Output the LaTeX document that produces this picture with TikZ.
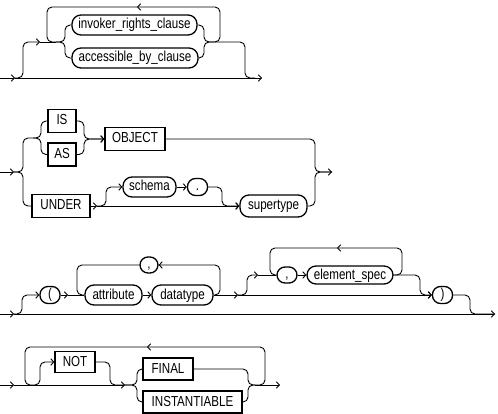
\documentclass[tikz,border=0pt]{standalone}
\usepackage{fontspec}
\setmainfont{Liberation Sans}[FakeStretch=0.8]
\usepackage{tikz}
\usetikzlibrary{calc,arrows.meta}
\newcommand\rrfont{\fontsize{14.5}{15}\selectfont}
\tikzset{
	rail/.style={line width=0.9pt, rounded corners=5pt},
	arr/.style={-{Straight Barb[length=3pt,width=6.5pt]}},
	kw/.style={draw, rectangle, line width=1.3pt, minimum height=22pt, inner xsep=0pt, inner ysep=2pt, text height=10.5pt, text depth=2.5pt, font=\rrfont},
	nt/.style={draw, rectangle, rounded corners=9pt, line width=1.3pt, minimum height=20pt, inner xsep=0pt, inner ysep=2pt, text height=10.5pt, text depth=2.5pt, font=\rrfont},
	pnc/.style={draw, rectangle, rounded corners=8pt, line width=1.3pt, minimum width=20pt, minimum height=17pt, inner sep=0pt, text height=9.5pt, text depth=3pt, font=\rrfont},
}
\begin{document}
\begin{tikzpicture}[x=1pt,y=-1pt]
	\useasboundingbox (0,0) rectangle (498,414);
	% invoker / accessible clause
	\coordinate (in1) at (0,78);
	\coordinate (a1) at (15,78);
	\coordinate (b1) at (40,42);
	\coordinate (c1) at (56,42);
	\coordinate (e1) at (137,7);
	\coordinate (f1) at (255,78);
	\coordinate (out1) at (262,78);
	\node[nt, minimum width=125pt] (irc) at (134.5,25) {invoker\_rights\_clause};
	\node[nt, minimum width=126pt] (abc) at (135,58) {accessible\_by\_clause};
	\draw[rail,arr] (in1) -- (a1);
	\draw[rail,arr] (a1) -- (out1);
	\draw[rail,arr] (a1) -| (23,42) -- (b1);
	\draw[rail] (b1) -- (c1);
	\draw[rail] (c1) -| (65,25) -- (irc.west);
	\draw[rail] (c1) -| (65,58) -- (abc.west);
	\draw[rail,arr] (irc.east) -| (204,42) -| (220,7) -- (e1);
	\draw[rail] (e1) -| (47,42) -- (c1);
	\draw[rail] (abc.east) -| (204,42) -| (245,78) -- (f1);
	% IS / AS OBJECT, UNDER
	\coordinate (in2) at (0,172);
	\coordinate (a2) at (14,172);
	\coordinate (b2) at (33,138);
	\coordinate (c2) at (97,206);
	\coordinate (out2) at (332,172);
	\node[kw, minimum width=28pt, minimum height=23pt] (is) at (62,121) {IS};
	\node[kw, minimum width=28pt, minimum height=23pt] (as) at (62,154.5) {AS};
	\node[kw, minimum width=60pt, minimum height=23pt] (obj) at (135,139) {OBJECT};
	\node[kw, minimum width=58pt, minimum height=23pt] (under) at (61,206) {UNDER};
	\node[nt, minimum width=53pt] (schema) at (149.5,187) {schema};
	\node[pnc] (dot) at (197.5,187) {.};
	\node[nt, minimum width=67pt, minimum height=22pt] (super) at (273.5,206) {supertype};
	\draw[rail,arr] (in2) -- (a2);
	\draw[rail] (a2) -| (23,138) -| (41,121) -- (is.west);
	\draw[rail] (b2) -| (41,154.5) -- (as.west);
	\draw[rail,arr] (is.east) -| (84,139) -- (obj.west);
	\draw[rail,arr] (as.east) -| (84,139) -- (obj.west);
	\draw[rail] (a2) -| (23,206) -- (under.west);
	\draw[rail,arr] (under.east) -- (c2);
	\draw[rail,arr] (c2) -- (super.west);
	\draw[rail,arr] (c2) -| (106,187) -- (schema.west);
	\draw[rail,arr] (schema.east) -- (dot.west);
	\draw[rail,arr] (dot.east) -| (222,206) -- (super.west);
	\draw[rail,arr] (obj.east) -| (315,172) -- (out2);
	\draw[rail] (super.east) -| (315,172) -- (out2);
	% ( attribute datatype , element_spec )
	\coordinate (in3) at (0,314);
	\coordinate (a3) at (14,314);
	\coordinate (b3) at (68,295);
	\coordinate (c3) at (238,295);
	\coordinate (d3) at (258,275);
	\coordinate (e3) at (337,248);
	\coordinate (out3) at (495,314);
	\node[pnc] (lp) at (50,295) {(};
	\node[nt, minimum width=57pt] (attr) at (113.5,295) {attribute};
	\node[nt, minimum width=61pt] (dtype) at (182.5,295) {datatype};
	\node[pnc, minimum width=18pt, minimum height=16pt] (cm1) at (149,265) {,};
	\node[pnc, minimum height=16pt] (cm2) at (287,275) {,};
	\node[nt, minimum width=86pt, minimum height=18pt] (elem) at (350,275) {element\_spec};
	\node[pnc] (rp) at (442.5,295) {)};
	\draw[rail,arr] (in3) -- (a3);
	\draw[rail,arr] (a3) -- (out3);
	\draw[rail,arr] (a3) -| (22,295) -- (lp.west);
	\draw[rail,arr] (lp.east) -- (b3);
	\draw[rail] (b3) -- (attr.west);
	\draw[rail,arr] (attr.east) -- (dtype.west);
	\draw[rail,arr] (dtype.east) -| (220,265) -- (cm1.east);
	\draw[rail] (cm1.west) -| (77,295) -- (attr.west);
	\draw[rail,arr] (dtype.east) -- (c3);
	\draw[rail,arr] (c3) -- (rp.west);
	\draw[rail,arr] (c3) -| (247,275) -- (d3);
	\draw[rail] (d3) -- (cm2.west);
	\draw[rail,arr] (cm2.east) -- (elem.west);
	\draw[rail,arr] (elem.east) -| (402,248) -- (e3);
	\draw[rail] (e3) -| (270,275) -- (cm2.west);
	\draw[rail,arr] (elem.east) -| (420,295) -- (rp.west);
	\draw[rail] (rp.east) -| (470,314) -- (out3);
	% NOT FINAL / INSTANTIABLE
	\coordinate (in4) at (0,385);
	\coordinate (a4) at (14,385);
	\coordinate (b4) at (31,385);
	\coordinate (c4) at (125,385);
	\coordinate (d4) at (255,385);
	\coordinate (e4) at (147,347);
	\coordinate (out4) at (280,385);
	\node[kw, minimum width=40pt, minimum height=21pt] (not) at (75,362) {NOT};
	\node[kw, minimum width=50pt, minimum height=22pt] (fin) at (168,369) {FINAL};
	\node[kw, minimum width=99pt] (inst) at (192.5,402) {INSTANTIABLE};
	\draw[rail,arr] (in4) -- (a4);
	\draw[rail,arr] (a4) -- (c4);
	\draw[rail,arr] (b4) -| (40,362) -- (not.west);
	\draw[rail] (not.east) -| (110,385) -- (c4);
	\draw[rail] (c4) -| (137,369) -- (fin.west);
	\draw[rail] (c4) -| (137,402) -- (inst.west);
	\draw[rail] (fin.east) -| (248,385) -- (d4);
	\draw[rail] (inst.east) -| (248,385) -- (d4);
	\draw[rail,arr] (d4) -- (out4);
	\draw[rail,arr] (d4) -| (265,347) -- (e4);
	\draw[rail] (e4) -| (25,385) -- (b4);
\end{tikzpicture}
\end{document}
